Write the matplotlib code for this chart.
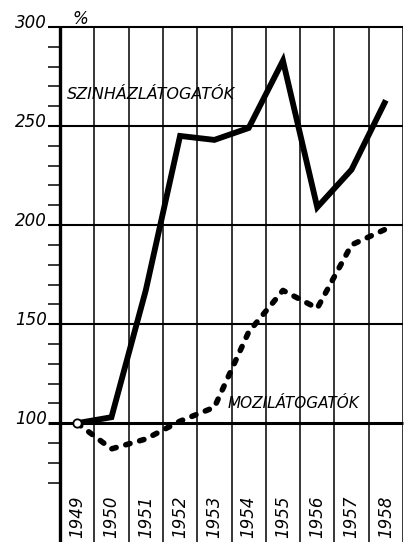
import matplotlib
matplotlib.use("Agg")
import matplotlib.pyplot as plt

# Attendance index, 1949 = 100 %
years = ["1949", "1950", "1951", "1952", "1953", "1954", "1955", "1956", "1957", "1958"]
theatre = [100, 103, 167, 245, 243, 249, 283, 209, 228, 263]
cinema = [100, 87, 92, 101, 108, 146, 167, 158, 190, 198]
y_major = [100, 150, 200, 250, 300]
y_minor = [70, 80, 90, 110, 120, 130, 140, 160, 170, 180, 190,
           210, 220, 230, 240, 260, 270, 280, 290]
theatre_label = "SZINHÁZLÁTOGATÓK"
cinema_label = "MOZILÁTOGATÓK"

fig = plt.figure(figsize=(4.04, 5.42), dpi=100)
ax = fig.add_axes([60 / 404, 0.0, 343 / 404, 1 - 27 / 542])
ax.set_xlim(0, len(years))
ax.set_ylim(40, 300)
ax.axis("off")

font = dict(family="DejaVu Sans", style="italic", color="black")

# column borders
for i in range(1, len(years) + 1):
    ax.plot([i, i], [40, 300], color="black", lw=1.1, zorder=1,
            solid_capstyle="butt")
# left axis
ax.plot([0, 0], [40, 300], color="black", lw=2.4, zorder=3,
        solid_capstyle="butt", clip_on=False)

# horizontal rules, extended to the left under the labels
for v in y_major:
    ax.plot([-0.36, len(years)], [v, v], color="black",
            lw=2.2 if v == 100 else 1.5, zorder=2, clip_on=False,
            solid_capstyle="butt")
    ax.text(-0.37, v - 0.5, str(v), ha="right", va="baseline",
            fontsize=12, **font)

for v in y_minor:
    ax.plot([-0.34, 0], [v, v], color="black", lw=1.1, zorder=2,
            clip_on=False, solid_capstyle="butt")

ax.text(0.35, 301.5, "%", ha="left", va="baseline", fontsize=12, **font)

xs = [i + 0.5 for i in range(len(years))]
ax.plot(xs, theatre, color="black", lw=4.2, solid_joinstyle="miter",
        solid_capstyle="butt", zorder=5)
ax.plot(xs, cinema, color="black", lw=4.0, linestyle=(0, (0.8, 1.8)),
        dash_capstyle="round", zorder=5)
ax.plot(xs[0], 100, marker="o", ms=6, mfc="white", mec="black", mew=1.3,
        zorder=6)

ax.text(0.2, 263.6, theatre_label, ha="left", va="baseline",
        fontsize=11.5, **font)
ax.text(4.9, 107.6, cinema_label, ha="left", va="baseline",
        fontsize=11, **font)

for x, yr in zip(xs, years):
    ax.text(x, 63.5, yr, ha="center", va="top", rotation=90,
            fontsize=12, **font)

fig.savefig("out.png", dpi=100, facecolor="white")
